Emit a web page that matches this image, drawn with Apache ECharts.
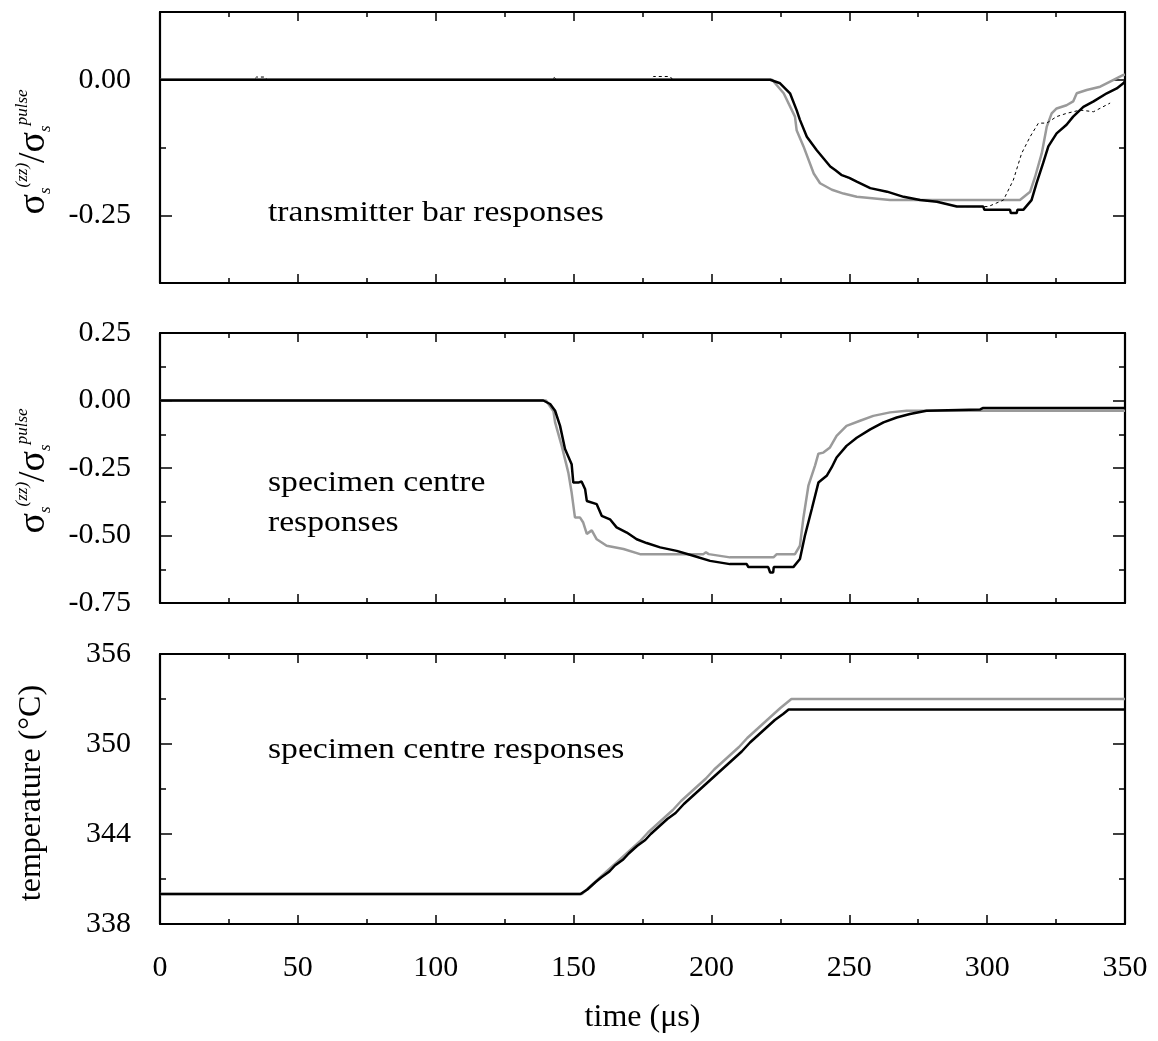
<!DOCTYPE html>
<html>
<head>
<meta charset="utf-8">
<script src="https://cdn.jsdelivr.net/npm/echarts@6/dist/echarts.min.js"></script>
<style>
html,body{margin:0;padding:0;background:#fff;}
#chart{width:1158px;height:1041px;}
</style>
</head>
<body>
<div id="chart"></div>
<script>
// ---------- DATA ([time µs, value]) ----------
// Panel 1: transmitter bar responses (σ/σpulse)
const transBlack = [[0,0],[221.3,0],[224.9,-0.0065],[228.5,-0.025],[230.9,-0.056],[232.1,-0.074],[234.6,-0.105],[238.2,-0.13],[243.1,-0.16],[245,-0.167],[247.3,-0.176],[250,-0.181],[252.7,-0.188],[257.6,-0.2],[263.7,-0.2065],[269.7,-0.216],[275.7,-0.222],[281.8,-0.225],[289,-0.234],[298.6,-0.234],[299,-0.24],[308.3,-0.24],[308.6,-0.246],[310.7,-0.246],[311,-0.24],[313.1,-0.24],[316.1,-0.222],[317.9,-0.191],[320.3,-0.154],[322.2,-0.123],[325.2,-0.099],[328.8,-0.083],[331.2,-0.068],[334.9,-0.05],[338.6,-0.04],[343.4,-0.025],[347,-0.016],[349.4,-0.0065],[350,-0.003]];
const transGray = [[0,0],[222,0],[226.2,-0.025],[230.3,-0.068],[230.9,-0.093],[233.4,-0.123],[237.1,-0.173],[239.4,-0.191],[243.7,-0.203],[247.9,-0.21],[252.7,-0.216],[264.8,-0.222],[311.9,-0.222],[315.6,-0.2065],[317.4,-0.179],[319.8,-0.136],[321.6,-0.087],[323.4,-0.062],[325.2,-0.053],[328.8,-0.047],[331.2,-0.04],[332.5,-0.025],[336.1,-0.019],[341,-0.0128],[344.6,-0.0035],[349.4,0.0088],[350,0.009]];
const transDashed = [[0,0],[34,0],[35,0.005],[38,0.005],[39,0],[142,0],[143,0.004],[144,0],[178,0],[179,0.006],[185,0.006],[186,0],[221.3,0],[224.9,-0.0065],[228.5,-0.025],[230.9,-0.056],[232.1,-0.074],[234.6,-0.105],[238.2,-0.13],[243.1,-0.16],[247.3,-0.176],[252.7,-0.188],[257.6,-0.2],[263.7,-0.2065],[269.7,-0.216],[275.7,-0.222],[281.8,-0.225],[289,-0.234],[300.4,-0.234],[305.9,-0.222],[309.5,-0.185],[312.5,-0.136],[315.6,-0.105],[318.6,-0.08],[321.6,-0.08],[325.2,-0.068],[328.8,-0.062],[333.7,-0.056],[338.6,-0.059],[344.6,-0.043]];

// Panel 2: specimen centre responses (σ/σpulse)
const centreBlack = [[0,0],[139,0],[141.5,-0.013],[143.3,-0.038],[145.1,-0.094],[146.9,-0.18],[149.3,-0.236],[149.9,-0.304],[151.7,-0.304],[152.9,-0.3],[154.2,-0.329],[154.8,-0.372],[158.4,-0.384],[160.2,-0.427],[163.2,-0.44],[165.6,-0.47],[169.3,-0.489],[172.9,-0.514],[176.5,-0.528],[181.4,-0.544],[187.4,-0.557],[193.4,-0.575],[199.5,-0.594],[206.7,-0.606],[212.8,-0.606],[213.4,-0.617],[220.6,-0.617],[221.3,-0.637],[222.4,-0.637],[222.6,-0.617],[229.7,-0.617],[232.1,-0.587],[233.9,-0.501],[236.4,-0.402],[238.8,-0.304],[241.8,-0.279],[243.6,-0.248],[245.4,-0.211],[249,-0.168],[252.7,-0.138],[257.6,-0.107],[262.4,-0.081],[267.2,-0.063],[272,-0.05],[278,-0.038],[297.5,-0.033],[298.4,-0.028],[350,-0.028]];
const centreGray = [[0,0],[140,0],[142.7,-0.04],[143.3,-0.081],[145.7,-0.168],[148.1,-0.267],[149.3,-0.341],[150.5,-0.433],[152.3,-0.433],[153.5,-0.452],[154.8,-0.494],[156.6,-0.481],[158.4,-0.514],[162,-0.538],[168.1,-0.55],[174.1,-0.569],[197.1,-0.569],[198,-0.562],[199,-0.569],[206.7,-0.581],[222.5,-0.581],[223.7,-0.569],[230.3,-0.569],[232.1,-0.538],[233.3,-0.439],[235.2,-0.314],[237.6,-0.24],[238.8,-0.197],[240.6,-0.193],[243,-0.174],[245.4,-0.131],[249,-0.094],[253.9,-0.075],[258.7,-0.057],[264.8,-0.044],[270.8,-0.038],[350,-0.038]];

// Panel 3: specimen centre temperature (°C)
const tempBlack = [[0,340.0],[152.5,340.0],[155,340.3],[158,340.8],[160,341.1],[163,341.5],[165,341.9],[168,342.3],[170,342.7],[173,343.2],[176,343.6],[178,344.0],[181,344.5],[184,345.0],[187,345.4],[190,346.0],[193,346.5],[196,347.0],[199,347.5],[202,348.0],[205,348.5],[208,349.0],[211,349.5],[214,350.1],[217,350.6],[220,351.1],[223,351.6],[226,352.0],[228,352.3],[350,352.3]];
const tempGray = [[0,340.0],[153,340.0],[156,340.5],[159,341.0],[162,341.5],[165,342.0],[168,342.5],[171,343.0],[174,343.5],[177,344.1],[180,344.6],[183,345.1],[186,345.6],[189,346.2],[192,346.7],[195,347.2],[198,347.7],[201,348.3],[204,348.8],[207,349.3],[210,349.8],[213,350.4],[216,350.9],[219,351.4],[222,351.9],[225,352.4],[227,352.7],[229,353.0],[350,353.0]];

// Axis ticks / labels
const xRange = [0, 350];
const stressTopRange = [-0.375, 0.125];
const stressTopLabels = [-0.25, 0];
const stressTopMinor = [-0.375, -0.125, 0.125];
const stressMidRange = [-0.75, 0.25];
const stressMidLabels = [-0.75, -0.5, -0.25, 0, 0.25];
const stressMidMinor = [-0.625, -0.375, -0.125, 0.125];
const tempRange = [338, 356];
const tempLabels = [338, 344, 350, 356];
const tempMinor = [341, 347, 353];

// ---------- CHART ----------
const FONT = "'Liberation Serif','DejaVu Serif',serif";
const chart = echarts.init(document.getElementById('chart'), null, {renderer: 'canvas'});

const grids = [
  {left: 160, top: 12, width: 965, height: 271},
  {left: 160, top: 333, width: 965, height: 270},
  {left: 160, top: 654, width: 965, height: 270}
];

function xAx(g, pos, showLabel) {
  const a = {
    type: 'value', gridIndex: g, position: pos, min: xRange[0], max: xRange[1], interval: 50,
    axisLine: {show: true, onZero: false, lineStyle: {color: '#000', width: 2.2}},
    axisTick: {show: true, inside: true, length: 9, lineStyle: {color: '#000', width: 1.5}},
    minorTick: {show: true, splitNumber: 2, length: 5, lineStyle: {color: '#000', width: 1.5}},
    axisLabel: {show: showLabel, margin: 29, color: '#000', fontFamily: FONT, fontSize: 30},
    splitLine: {show: false}, minorSplitLine: {show: false}
  };
  if (showLabel) {
    a.name = 'time (\u03bcs)';
    a.nameLocation = 'middle';
    a.nameGap = 78;
    a.nameTextStyle = {color: '#000', fontFamily: FONT, fontSize: 32};
  }
  return a;
}
function yAx(g, pos, range, ticks, len, labels, fmt, line) {
  return {
    type: 'value', gridIndex: g, position: pos, min: range[0], max: range[1],
    axisLine: {show: line, onZero: false, lineStyle: {color: '#000', width: 2.2}},
    axisTick: {show: true, inside: true, length: len, customValues: ticks, lineStyle: {color: '#000', width: 1.5}},
    axisLabel: labels ? {show: true, customValues: labels, formatter: fmt, margin: 29, color: '#000', fontFamily: FONT, fontSize: 30} : {show: false},
    splitLine: {show: false}
  };
}
const f2 = v => Number(v).toFixed(2);
const f0 = v => String(Math.round(v));

const xAxes = [], yAxes = [];
[0, 1, 2].forEach(g => {
  xAxes.push(xAx(g, 'bottom', g === 2));
  xAxes.push(xAx(g, 'top', false));
});
const ySpec = [
  [stressTopRange, stressTopLabels, stressTopMinor, f2],
  [stressMidRange, stressMidLabels, stressMidMinor, f2],
  [tempRange, tempLabels, tempMinor, f0]
];
ySpec.forEach((s, g) => {
  yAxes.push(yAx(g, 'left', s[0], s[1], 12, s[1], s[3], true));   // index 4g
  yAxes.push(yAx(g, 'right', s[0], s[1], 12, null, null, true));
  yAxes.push(yAx(g, 'left', s[0], s[2], 6, null, null, false));
  yAxes.push(yAx(g, 'right', s[0], s[2], 6, null, null, false));
});

function ln(g, data, color, width, type) {
  return {
    type: 'line', xAxisIndex: 2 * g, yAxisIndex: 4 * g, data: data,
    showSymbol: false, symbol: 'none', smooth: false, silent: true,
    lineStyle: {color: color, width: width, type: type || 'solid'},
    clip: true
  };
}
const GRAY = '#9a9a9a';
const series = [
  ln(0, transGray, GRAY, 2.5),
  ln(0, transBlack, '#000', 2.5),
  ln(0, transDashed, '#000', 1, [3, 3]),
  ln(1, centreGray, GRAY, 2.5),
  ln(1, centreBlack, '#000', 2.5),
  ln(2, tempGray, GRAY, 2.5),
  ln(2, tempBlack, '#000', 2.5)
];

function sigmaTitle(cx, cy) {
  return {
    type: 'text', x: cx, y: cy, rotation: Math.PI / 2,
    style: {
      text: '{g|\u03c3}{sub|s}{sup|(zz)}{g|/\u03c3}{sub|s}{sup|pulse}',
      align: 'center', verticalAlign: 'middle',
      fill: '#000',
      rich: {
        g: {fontFamily: FONT, fontSize: 38, lineHeight: 40, verticalAlign: 'middle', fill: '#000'},
        sub: {fontFamily: FONT, fontSize: 17, fontStyle: 'italic', lineHeight: 17, verticalAlign: 'bottom', fill: '#000'},
        sup: {fontFamily: FONT, fontSize: 17, fontStyle: 'italic', lineHeight: 17, verticalAlign: 'top', fill: '#000'}
      }
    }
  };
}
function note(x, y, txt) {
  return {
    type: 'text', x: x, y: y, scaleX: 1.12,
    style: {text: txt, font: '30px ' + FONT, fill: '#000', align: 'left', verticalAlign: 'middle', lineHeight: 40}
  };
}

const option = {
  animation: false,
  backgroundColor: '#fff',
  grid: grids,
  xAxis: xAxes,
  yAxis: yAxes,
  series: series,
  graphic: [
    sigmaTitle(34, 152),
    sigmaTitle(34, 471),
    {type: 'text', x: 32, y: 793, rotation: Math.PI / 2,
     style: {text: 'temperature (\u00b0C)', font: '32px ' + FONT, fill: '#000', align: 'center', verticalAlign: 'middle'}},
    note(268, 213, 'transmitter bar responses'),
    note(268, 503, 'specimen centre\nresponses'),
    note(268, 750, 'specimen centre responses')
  ]
};
chart.setOption(option);
</script>
</body>
</html>
